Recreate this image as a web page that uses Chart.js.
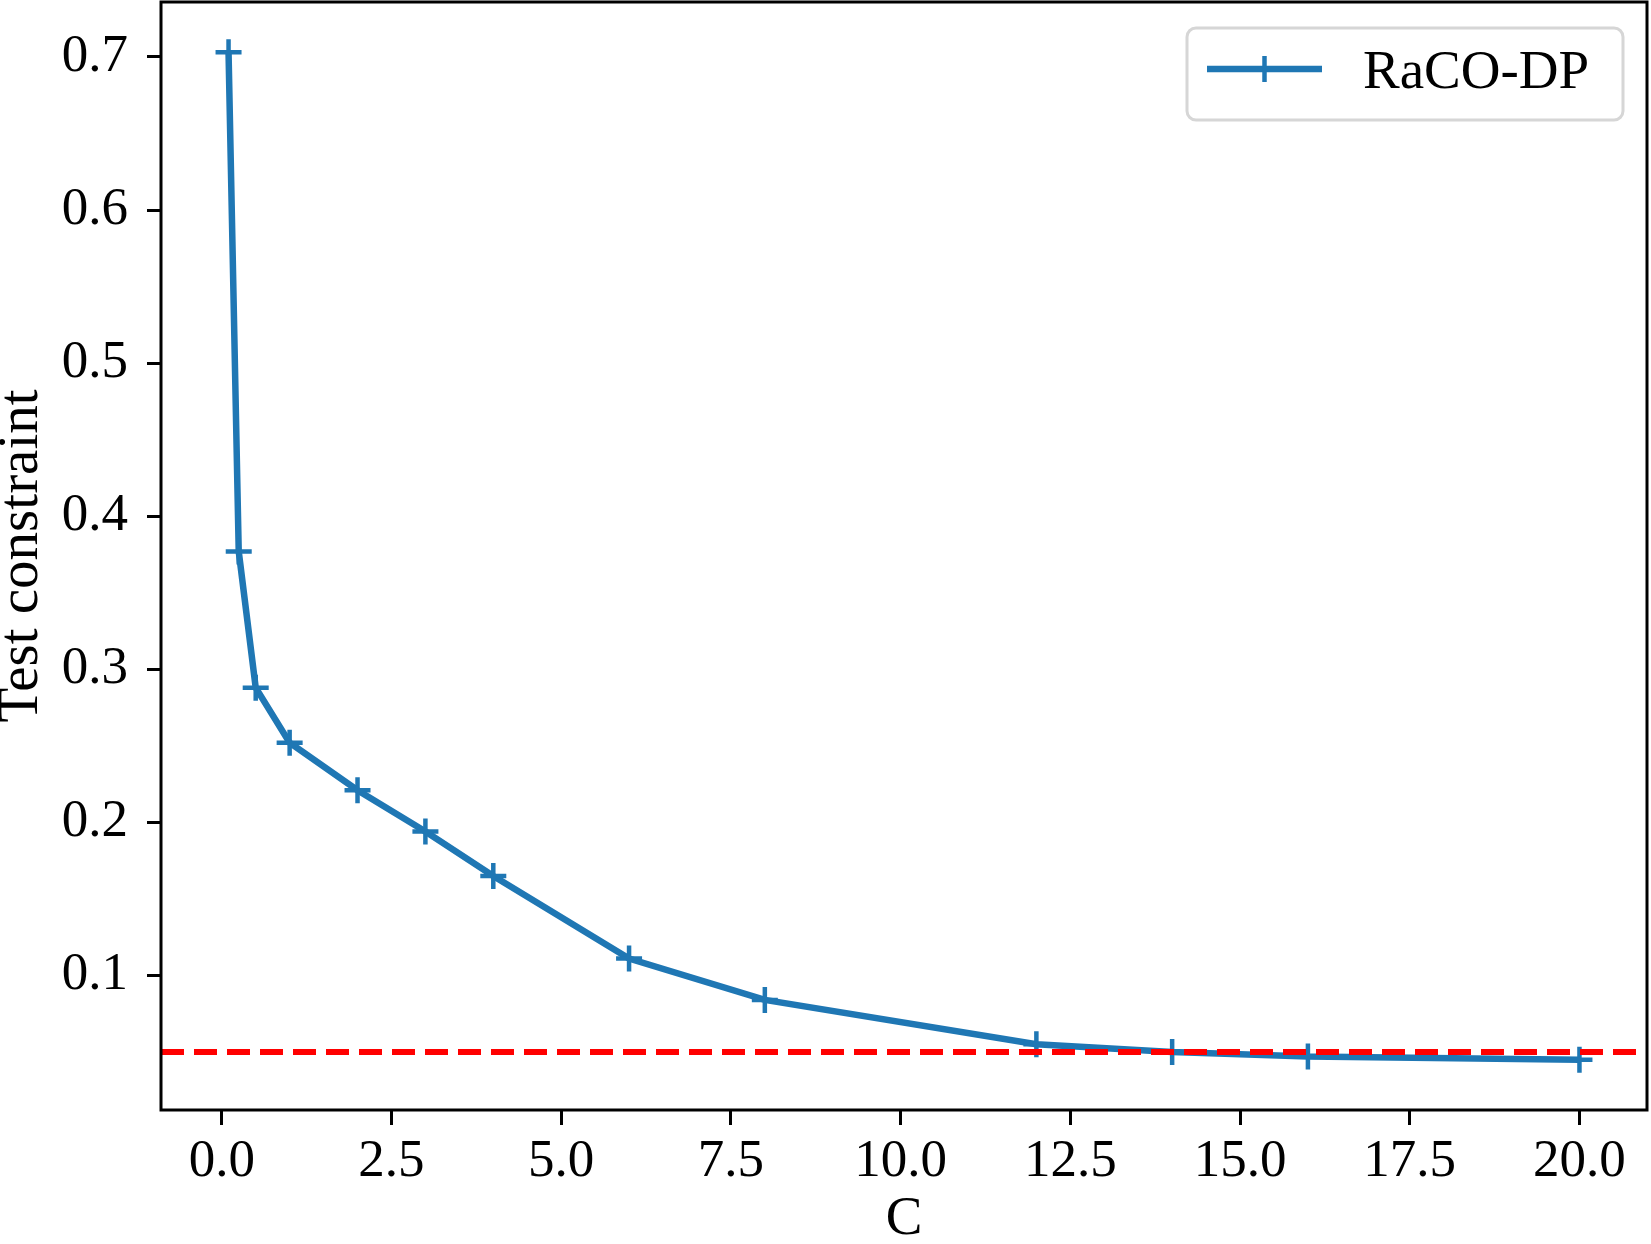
<!DOCTYPE html>
<html>
<head>
<meta charset="utf-8">
<script src="https://cdn.jsdelivr.net/npm/chart.js@4.4.0/dist/chart.umd.min.js"></script>
<style>
  body { margin: 0; background: #fff; }
</style>
</head>
<body>
<canvas id="myChart" width="1651" height="1244"></canvas>
<script>
const cValues = [0.1, 0.25, 0.5, 1, 2, 3, 4, 6, 8, 12, 14, 16, 20];
const constraintValues = [0.703, 0.377, 0.288, 0.252, 0.221, 0.194, 0.165, 0.111, 0.084, 0.055, 0.050, 0.047, 0.045];
const thresholdValue = 0.05;
const xTicks = [0, 2.5, 5, 7.5, 10, 12.5, 15, 17.5, 20];
const yTicks = [0.1, 0.2, 0.3, 0.4, 0.5, 0.6, 0.7];
const seriesLabel = "RaCO-DP";

const fontFamily = "'Liberation Serif', 'DejaVu Serif', serif";
const blue = "#1f77b4";

// same 5% margins matplotlib puts round the data
function padRange(values) {
  const lo = Math.min(...values);
  const hi = Math.max(...values);
  const m = (hi - lo) * 0.05;
  return [lo - m, hi + m];
}
const [xMin, xMax] = padRange(cValues);
const [yMin, yMax] = padRange(constraintValues);

// full box round the plot + legend in the upper right corner
const framePlugin = {
  id: "frame",
  afterDatasetsDraw(chart) {
    const ctx = chart.ctx;
    const a = chart.chartArea;
    ctx.save();
    ctx.strokeStyle = "#000";
    ctx.lineWidth = 3;
    ctx.strokeRect(a.left, a.top, a.right - a.left, a.bottom - a.top);

    const ds = chart.data.datasets[0];
    const bx = a.right - 460, by = a.top + 26, bw = 436, bh = 92;
    ctx.beginPath();
    ctx.roundRect(bx, by, bw, bh, 9);
    ctx.fillStyle = "rgba(255,255,255,0.8)";
    ctx.fill();
    ctx.strokeStyle = "#d6d6d6";
    ctx.lineWidth = 3;
    ctx.stroke();

    const ly = by + 41;
    ctx.beginPath();
    ctx.moveTo(bx + 20, ly);
    ctx.lineTo(bx + 135, ly);
    ctx.strokeStyle = ds.borderColor;
    ctx.lineWidth = ds.borderWidth;
    ctx.stroke();
    ctx.beginPath();
    ctx.moveTo(bx + 77.5, ly - ds.pointRadius);
    ctx.lineTo(bx + 77.5, ly + ds.pointRadius);
    ctx.lineWidth = ds.pointBorderWidth;
    ctx.stroke();

    ctx.fillStyle = "#000";
    ctx.font = "55px " + fontFamily;
    ctx.textBaseline = "alphabetic";
    ctx.textAlign = "left";
    ctx.fillText(ds.label, bx + 176, by + 60);
    ctx.restore();
  }
};

new Chart("myChart", {
  type: "line",
  data: {
    datasets: [
      {
        label: seriesLabel,
        data: cValues.map((c, i) => ({ x: c, y: constraintValues[i] })),
        borderColor: blue,
        backgroundColor: blue,
        borderWidth: 6.5,
        pointStyle: "cross",
        pointRadius: 13,
        pointBorderWidth: 4.5,
        pointBorderColor: blue,
        tension: 0,
        order: 1,
      },
      {
        label: "threshold",
        data: [{ x: xMin, y: thresholdValue }, { x: xMax, y: thresholdValue }],
        borderColor: "#ff0000",
        borderWidth: 6,
        borderDash: [23, 10],
        pointRadius: 0,
        order: 0,
      },
    ],
  },
  options: {
    responsive: false,
    animation: false,
    layout: { autoPadding: false, padding: { top: 2, right: 4, left: 0, bottom: 0 } },
    plugins: {
      legend: { display: false },
      tooltip: { enabled: false },
    },
    scales: {
      x: {
        type: "linear",
        min: xMin,
        max: xMax,
        afterBuildTicks: (scale) => { scale.ticks = xTicks.map(v => ({ value: v })); },
        afterFit: (scale) => {
          scale.height = 134;
          scale.paddingLeft = 0;
          scale.paddingRight = 0;
        },
        grid: { drawOnChartArea: false, drawTicks: true, tickLength: 15, tickWidth: 3, tickColor: "#000" },
        border: { display: false },
        ticks: {
          padding: 5,
          color: "#000",
          font: { family: fontFamily, size: 53 },
          maxRotation: 0,
          callback: (v) => Number(v).toFixed(1),
        },
        title: {
          display: true,
          text: "C",
          color: "#000",
          padding: 0,
          font: { family: fontFamily, size: 55, lineHeight: 0.9 },
        },
      },
      y: {
        type: "linear",
        min: yMin,
        max: yMax,
        afterBuildTicks: (scale) => { scale.ticks = yTicks.map(v => ({ value: v })); },
        afterFit: (scale) => {
          scale.width = 161;
          scale.paddingTop = 0;
          scale.paddingBottom = 0;
        },
        grid: { drawOnChartArea: false, drawTicks: true, tickLength: 14, tickWidth: 3, tickColor: "#000" },
        border: { display: false },
        ticks: {
          padding: 19,
          color: "#000",
          font: { family: fontFamily, size: 53 },
          callback: (v) => Number(v).toFixed(1),
        },
        title: {
          display: true,
          text: "Test constraint",
          color: "#000",
          padding: 0,
          font: { family: fontFamily, size: 57, lineHeight: 0.76 },
        },
      },
    },
  },
  plugins: [framePlugin],
});
</script>
</body>
</html>
